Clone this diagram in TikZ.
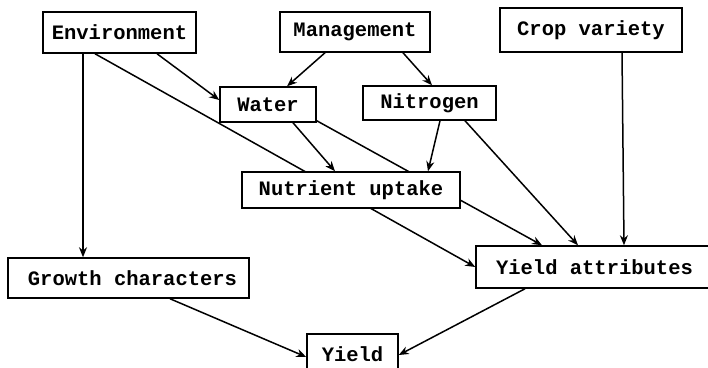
\documentclass[tikz,border=0pt]{standalone}
\usepackage{fontspec}
\newfontfamily\twfont{Liberation Mono}
\usetikzlibrary{arrows.meta,backgrounds,calc}
\tikzset{
  box/.style={draw=black, line width=1.5pt, fill=white, rectangle, inner sep=0pt,
    font=\twfont\bfseries\fontsize{20.5}{24}\selectfont},
  arr/.style={line width=1.5pt, -{Stealth[length=10pt,width=8pt]}}
}
\begin{document}
\begin{tikzpicture}[x=1pt,y=-1pt]
\path[use as bounding box, clip] (0,0) rectangle (708,367);
\node[box, minimum width=153pt, minimum height=41pt] (env) at (119.5,32.5) {Environment};
\node[box, minimum width=150pt, minimum height=40pt] (mgmt) at (355,32) {Management};
\node[box, minimum width=182pt, minimum height=44pt] (crop) at (591,30) {Crop variety};
\node[box, minimum width=96pt, minimum height=35pt] (water) at (268,104.5) {Water};
\node[box, minimum width=133pt, minimum height=34pt] (nitro) at (429.5,103) {Nitrogen};
\node[box, minimum width=218pt, minimum height=36pt] (nutr) at (351,190) {Nutrient uptake};
\node[box, minimum width=241pt, minimum height=40pt] (grow) at (128.5,278) {\hspace*{8pt}Growth characters};
\node[box, minimum width=237pt, minimum height=42pt] (yattr) at (594.5,267) {Yield attributes};
\node[box, minimum width=91pt, minimum height=41pt] (yield) at (352.5,354.5) {Yield};
\begin{scope}[on background layer]
\draw[arr] ([xshift=37.5pt]env.south) -- ([yshift=4.5pt]water.west);
\draw[arr] ([xshift=-24.5pt]env.south) -- (yattr.west);
\draw[arr] ([xshift=-36.5pt]env.south) -- ([xshift=-36.5pt]env.south |- grow.north);
\draw[arr] ([xshift=-30pt]mgmt.south) -- ([xshift=19pt]water.north);
\draw[arr] ([xshift=48pt]mgmt.south) -- ([xshift=2.5pt]nitro.north);
\draw[arr] ([xshift=25pt]water.south) -- ([xshift=-16pt]nutr.north);
\draw[arr] ([yshift=2pt]water.south east) -- ([xshift=-52.5pt]yattr.north);
\draw[arr] ([xshift=10.5pt]nitro.south) -- ([xshift=77pt]nutr.north);
\draw[arr] ([xshift=35.5pt]nitro.south) -- ([xshift=-16.5pt]yattr.north);
\draw[arr] ([xshift=31pt]crop.south) -- ([xshift=29.5pt]yattr.north);
\draw[arr] ([xshift=41.5pt]grow.south) -- ([yshift=-2.5pt]yield.west);
\draw[arr] ([xshift=-69.5pt]yattr.south) -- ([yshift=-0.5pt]yield.east);
\end{scope}
\end{tikzpicture}
\end{document}
